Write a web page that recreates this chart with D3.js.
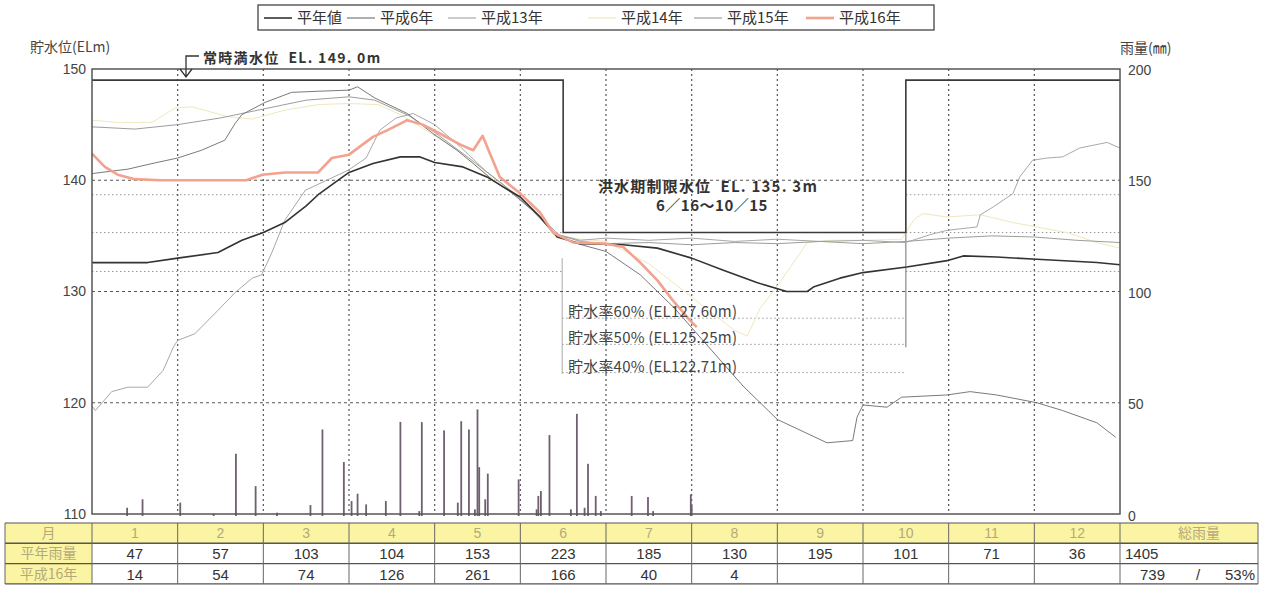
<!DOCTYPE html>
<html><head><meta charset="utf-8">
<script src="https://cdn.jsdelivr.net/npm/d3@7"></script>
<style>
body{margin:0;background:#fff;}
svg{display:block;font-family:"Noto Sans CJK JP","Liberation Sans",sans-serif;}
</style></head><body>
<svg id="chart" width="1261" height="608"></svg>
<script>
// month labels for the table
var monthLabels = ['1','2','3','4','5','6','7','8','9','10','11','12'];
// monthly rainfall (mm)
var normalRain = [47, 57, 103, 104, 153, 223, 185, 130, 195, 101, 71, 36];
var rain2004   = [14, 54, 74, 126, 261, 166, 40, 4];
var normalTotal = 1405, total2004 = 739, ratio2004 = '53%';

// water level series: [month position (0-12), EL m]
var avgLevel = [[0,132.6],[0.65,132.6],[1,133.0],[1.47,133.5],[1.75,134.6],[2,135.3],[2.25,136.2],[2.5,137.7],[2.64,138.7],[3,140.7],[3.28,141.5],[3.6,142.1],[3.83,142.1],[4,141.6],[4.33,141.2],[4.61,140.3],[4.8,139.4],[5,138.5],[5.23,136.7],[5.43,134.9],[5.7,134.3],[6.2,134.2],[6.6,133.9],[7,133.0],[7.37,131.9],[7.76,130.8],[8.11,130.0],[8.35,130.0],[8.42,130.4],[8.73,131.2],[9,131.7],[9.51,132.2],[10,132.8],[10.17,133.2],[10.56,133.1],[11.03,132.9],[11.73,132.6],[12,132.4]];
var level06 = [[0,140.6],[0.42,141.0],[0.7,141.5],[1,142.0],[1.28,142.7],[1.55,143.6],[1.67,145.1],[1.75,145.9],[2.02,147.0],[2.33,147.9],[2.64,148.0],[3,148.1],[3.1,148.4],[3.3,147.4],[3.68,146.0],[3.98,144.2],[4.26,142.7],[4.45,141.5],[4.68,140.0],[4.91,138.8],[5.23,136.7],[5.38,135.3],[5.62,134.4],[6,133.6],[6.4,131.5],[6.8,128.5],[7.2,125.0],[7.6,121.5],[8,118.5],[8.58,116.4],[8.88,116.6],[8.93,118.7],[9,119.8],[9.28,119.6],[9.45,120.5],[9.98,120.7],[10.25,121.0],[10.56,120.7],[11.03,120.0],[11.33,119.3],[11.73,118.2],[11.95,116.9]];
var level13 = [[0,119.7],[0.04,119.3],[0.23,121.0],[0.42,121.4],[0.65,121.4],[0.83,122.9],[0.95,125.0],[1,125.6],[1.2,126.2],[1.47,128.3],[1.67,129.9],[1.87,131.2],[1.98,131.5],[2.1,133.5],[2.25,136.4],[2.49,139.1],[2.99,140.9],[3.2,142.0],[3.36,144.5],[3.55,145.6],[3.75,146.0],[4,145.0],[4.3,143.0],[4.6,140.8],[4.9,139.0],[5.2,137.0],[5.45,135.1],[5.7,134.6],[6,134.8],[6.5,134.6],[7,134.8],[7.5,134.5],[8,134.7],[8.5,134.5],[9,134.6],[9.49,134.4],[9.58,134.6],[9.78,135.1],[9.98,135.5],[10.33,135.8],[10.37,136.9],[10.52,137.6],[10.75,138.8],[10.83,140.3],[10.98,141.8],[11.15,142.0],[11.33,142.1],[11.53,142.9],[11.85,143.4],[12,142.9]];
var level14 = [[0,145.4],[0.3,145.2],[0.7,145.2],[0.97,146.5],[1.17,146.6],[1.59,145.7],[1.87,145.5],[2.25,146.3],[2.64,146.8],[2.99,146.9],[3.34,146.8],[3.6,145.9],[4,144.0],[4.3,142.5],[4.6,140.6],[4.9,138.9],[5.2,136.9],[5.45,135.0],[5.7,134.7],[6,134.5],[6.5,132.5],[7,129.5],[7.5,126.5],[7.65,126.0],[7.8,128.5],[8,130.5],[8.35,134.4],[8.6,134.6],[9,134.6],[9.45,134.7],[9.6,136.5],[9.7,137.0],[9.98,136.7],[10.37,136.9],[10.75,136.2],[11.03,135.8],[11.38,135.3],[11.73,134.4],[12,133.9]];
var level15 = [[0,144.8],[0.5,144.6],[1,145.0],[1.5,145.6],[2,146.4],[2.5,147.2],[3,147.5],[3.3,147.2],[3.7,145.8],[4,144.3],[4.4,142.0],[4.8,139.6],[5.1,137.6],[5.4,135.2],[5.7,134.5],[6,134.3],[6.5,134.4],[7,134.2],[7.5,134.4],[8,134.3],[8.5,134.5],[9,134.3],[9.5,134.5],[10,134.8],[10.5,135.0],[11,134.9],[11.5,134.6],[12,134.4]];
var level16 = [[0,142.4],[0.15,141.2],[0.3,140.5],[0.5,140.1],[0.8,140.0],[1,140.0],[1.5,140.0],[1.8,140.0],[1.99,140.5],[2.25,140.7],[2.64,140.7],[2.8,142.0],[3,142.3],[3.28,143.9],[3.45,144.5],[3.68,145.4],[3.86,145.0],[4.06,144.2],[4.3,143.2],[4.45,142.7],[4.56,144.0],[4.64,142.5],[4.76,140.3],[5,138.8],[5.23,137.1],[5.38,135.3],[5.62,134.4],[6,134.3],[6.2,134.0],[6.4,132.6],[6.6,131.0],[6.78,129.2],[6.98,127.4],[7.06,126.8]];

// daily rainfall 2004: month position and mm
var rainDay = [0.41,0.59,1.03,1.42,1.68,1.91,2.16,2.55,2.69,2.94,3.03,3.1,3.2,3.43,3.6,3.82,3.85,4.11,4.27,4.31,4.4,4.47,4.5,4.52,4.59,4.62,4.98,5.19,5.21,5.24,5.34,5.59,5.66,5.75,5.79,5.88,5.94,6.3,6.49,6.55,6.99,7.0];
var rainMm  = [3.7,7.5,6.0,1.0,27.9,13.4,1.5,4.9,38.8,24.2,6.7,10,5.2,6.7,42.2,2.2,42.1,38.4,6.0,42.5,38.8,3.0,47.8,21.9,7.5,19,16.4,3.0,9.0,11.2,36.3,3.0,45.8,3.7,23.4,9.0,2.2,9.0,8.5,2.2,9.7,5.0];

var levelTicks = [150, 140, 130, 120, 110];
var rainTicks = [200, 150, 100, 50, 0];
var fullLevel = 149.0, floodLevel = 135.3;
var floodStart = 5.5, floodEnd = 9.5;
var minorLevels = [138.7, 131.8];
var rateLevels = [127.60, 125.25, 122.71];
var rateLabels = ['貯水率60% (EL127.60m)', '貯水率50% (EL125.25m)', '貯水率40% (EL122.71m)'];

var legendItems = [
  {name: '平年値',  color: '#333333', w: 1.6},
  {name: '平成6年', color: '#7a7a7a', w: 1},
  {name: '平成13年', color: '#a8a8a8', w: 1},
  {name: '平成14年', color: '#efe8bf', w: 1},
  {name: '平成15年', color: '#9a9e98', w: 1},
  {name: '平成16年', color: '#f2a28e', w: 2.6}
];
var seriesData = [avgLevel, level06, level13, level14, level15, level16];

var svg = d3.select('#chart');
var x = d3.scaleLinear().domain([0, 12]).range([92, 1120]);
var y = d3.scaleLinear().domain([110, 150]).range([514, 69]);
var yr = d3.scaleLinear().domain([0, 200]).range([516, 70]);

var ink = '#444';

// minor dotted levels (outside flood period), plus flood level dotted
[[0, floodStart], [floodEnd, 12]].forEach(function (seg) {
  minorLevels.concat([floodLevel]).forEach(function (v) {
    svg.append('line')
      .attr('x1', x(seg[0])).attr('x2', x(seg[1]))
      .attr('y1', y(v)).attr('y2', y(v))
      .attr('stroke', '#999').attr('stroke-width', 1).attr('stroke-dasharray', '1.5,2.5');
  });
});
// storage rate lines in flood period
rateLevels.forEach(function (v) {
  svg.append('line')
    .attr('x1', x(floodStart) - 1).attr('x2', x(floodEnd))
    .attr('y1', y(v)).attr('y2', y(v))
    .attr('stroke', '#999').attr('stroke-width', 1).attr('stroke-dasharray', '1.5,2.5');
});
svg.append('line').attr('x1', x(floodStart) - 1).attr('x2', x(floodStart) - 1)
  .attr('y1', y(133.0)).attr('y2', y(122.6)).attr('stroke', '#aaa').attr('stroke-width', 1);
svg.append('line').attr('x1', x(floodEnd)).attr('x2', x(floodEnd))
  .attr('y1', y(floodLevel)).attr('y2', y(125.0)).attr('stroke', '#888').attr('stroke-width', 1.2);

// major grid
levelTicks.slice(1, 4).forEach(function (v) {
  svg.append('line').attr('x1', x(0)).attr('x2', x(12)).attr('y1', y(v)).attr('y2', y(v))
    .attr('stroke', '#555').attr('stroke-width', 1.2).attr('stroke-dasharray', '3,3');
});
d3.range(1, 12).forEach(function (m) {
  svg.append('line').attr('x1', x(m)).attr('x2', x(m)).attr('y1', y(150)).attr('y2', y(110))
    .attr('stroke', '#555').attr('stroke-width', 1.2).attr('stroke-dasharray', '2,3');
});

// rainfall bars
svg.append('g').selectAll('rect').data(rainDay).enter().append('rect')
  .attr('x', function (d) { return x(d) - 0.9; })
  .attr('width', 1.8)
  .attr('y', function (d, i) { return yr(rainMm[i]); })
  .attr('height', function (d, i) { return yr(0) - yr(rainMm[i]); })
  .attr('fill', '#6f6070');

// water level lines
var line = d3.line().x(function (d) { return x(d[0]); }).y(function (d) { return y(d[1]); });
[3, 2, 4, 1, 0, 5].forEach(function (i) {
  svg.append('path').datum(seriesData[i]).attr('d', line)
    .attr('fill', 'none').attr('stroke', legendItems[i].color)
    .attr('stroke-width', legendItems[i].w).attr('stroke-linejoin', 'round');
});

// full water level / flood control level outline
svg.append('path')
  .attr('d', 'M' + x(0) + ',' + y(fullLevel) + 'H' + x(floodStart) + 'V' + y(floodLevel) +
             'H' + x(floodEnd) + 'V' + y(fullLevel) + 'H' + x(12))
  .attr('fill', 'none').attr('stroke', '#3a3a3a').attr('stroke-width', 1.6);

// frame
svg.append('rect').attr('x', x(0)).attr('y', y(150)).attr('width', x(12) - x(0)).attr('height', y(110) - y(150))
  .attr('fill', 'none').attr('stroke', '#555').attr('stroke-width', 1.5);

// axes labels
var yAxisL = d3.axisLeft(y).tickValues(levelTicks).tickSize(0).tickPadding(6);
svg.append('g').attr('transform', 'translate(' + x(0) + ',0)').call(yAxisL)
  .call(function (g) { g.select('.domain').remove(); })
  .selectAll('text').attr('font-size', 14).attr('fill', ink).attr('font-family', 'Liberation Sans, sans-serif');
var yAxisR = d3.axisRight(yr).tickValues(rainTicks).tickSize(0).tickPadding(8);
svg.append('g').attr('transform', 'translate(' + x(12) + ',0)').call(yAxisR)
  .call(function (g) { g.select('.domain').remove(); })
  .selectAll('text').attr('font-size', 14).attr('fill', ink).attr('font-family', 'Liberation Sans, sans-serif');

svg.append('text').attr('x', 30).attr('y', 52).attr('font-size', 14).attr('fill', ink).text('貯水位(ELm)');
svg.append('text').attr('x', 1120).attr('y', 53).attr('font-size', 14).attr('fill', ink).text('雨量(㎜)');

// annotations
svg.append('text').attr('x', 203).attr('y', 63).attr('font-size', 14).attr('font-weight', 'bold')
  .attr('letter-spacing', 1.3).attr('fill', '#333').attr('xml:space', 'preserve').text('常時満水位  EL. 149. 0m');
svg.append('path').attr('d', 'M199,56H186V77M180,69L186,77L192,69')
  .attr('fill', 'none').attr('stroke', '#333').attr('stroke-width', 1.3);
svg.append('text').attr('x', 708).attr('y', 192).attr('text-anchor', 'middle').attr('font-size', 15)
  .attr('font-weight', 'bold').attr('letter-spacing', 1.2).attr('fill', '#333').attr('xml:space', 'preserve')
  .text('洪水期制限水位  EL. 135. 3m');
svg.append('text').attr('x', 712).attr('y', 211).attr('text-anchor', 'middle').attr('font-size', 15)
  .attr('font-weight', 'bold').attr('letter-spacing', 0.5).attr('fill', '#333').text('6／16～10／15');
rateLabels.forEach(function (t, i) {
  svg.append('text').attr('x', 568).attr('y', y(rateLevels[i]) - 1).attr('font-size', 15)
    .attr('letter-spacing', 0.2).attr('fill', '#444').text(t);
});

// legend
var lg = svg.append('g');
lg.append('rect').attr('x', 258).attr('y', 5).attr('width', 676).attr('height', 25)
  .attr('fill', '#fff').attr('stroke', '#444').attr('stroke-width', 1.3);
var legX = [264, 347, 448, 588, 694, 806];
legendItems.forEach(function (d, i) {
  lg.append('line').attr('x1', legX[i]).attr('x2', legX[i] + 28).attr('y1', 18).attr('y2', 18)
    .attr('stroke', d.color).attr('stroke-width', Math.max(d.w, 1.2));
  lg.append('text').attr('x', legX[i] + 33).attr('y', 23).attr('font-size', 15).attr('fill', '#333').text(d.name);
});

// table
var tTop = 523, rowH = 20.3, labelL = 5, totalR = 1258;
var colEdges = [labelL].concat(d3.range(0, 13).map(function (m) { return x(m); })).concat([totalR]);
var tbl = svg.append('g');
tbl.append('rect').attr('x', labelL).attr('y', tTop).attr('width', totalR - labelL).attr('height', rowH)
  .attr('fill', '#fbf4a2');
tbl.append('rect').attr('x', labelL).attr('y', tTop + rowH).attr('width', x(0) - labelL).attr('height', rowH * 2)
  .attr('fill', '#fbf4a2');
d3.range(0, 4).forEach(function (r) {
  tbl.append('line').attr('x1', labelL).attr('x2', totalR).attr('y1', tTop + r * rowH).attr('y2', tTop + r * rowH)
    .attr('stroke', '#555').attr('stroke-width', r === 0 ? 1 : 1.4);
});
colEdges.forEach(function (cx) {
  tbl.append('line').attr('x1', cx).attr('x2', cx).attr('y1', tTop).attr('y2', tTop + rowH * 3)
    .attr('stroke', '#666').attr('stroke-width', 1);
});
var pale = '#b3aa7c';
tbl.append('text').attr('x', (labelL + x(0)) / 2).attr('y', tTop + 15).attr('text-anchor', 'middle')
  .attr('font-size', 14).attr('fill', pale).text('月');
tbl.append('text').attr('x', (labelL + x(0)) / 2).attr('y', tTop + rowH + 15).attr('text-anchor', 'middle')
  .attr('font-size', 14).attr('fill', pale).text('平年雨量');
tbl.append('text').attr('x', (labelL + x(0)) / 2).attr('y', tTop + rowH * 2 + 15).attr('text-anchor', 'middle')
  .attr('font-size', 14).attr('fill', pale).text('平成16年');
tbl.append('text').attr('x', (x(12) + totalR) / 2 + 10).attr('y', tTop + 15).attr('text-anchor', 'middle')
  .attr('font-size', 14).attr('fill', pale).text('総雨量');
monthLabels.forEach(function (t, i) {
  var cx = (x(i) + x(i + 1)) / 2;
  tbl.append('text').attr('x', cx).attr('y', tTop + 15).attr('text-anchor', 'middle')
    .attr('font-size', 14).attr('fill', pale).attr('font-family', 'Liberation Sans, sans-serif').text(t);
  tbl.append('text').attr('x', cx).attr('y', tTop + rowH + 16).attr('text-anchor', 'middle')
    .attr('font-size', 15).attr('fill', '#333').attr('font-family', 'Liberation Sans, sans-serif').text(normalRain[i]);
  if (i < rain2004.length) {
    tbl.append('text').attr('x', cx).attr('y', tTop + rowH * 2 + 16).attr('text-anchor', 'middle')
      .attr('font-size', 15).attr('fill', '#333').attr('font-family', 'Liberation Sans, sans-serif').text(rain2004[i]);
  }
});
tbl.append('text').attr('x', x(12) + 5).attr('y', tTop + rowH + 16).attr('font-size', 15).attr('fill', '#333')
  .attr('font-family', 'Liberation Sans, sans-serif').text(normalTotal);
tbl.append('text').attr('x', x(12) + 20).attr('y', tTop + rowH * 2 + 16).attr('font-size', 15).attr('fill', '#333')
  .attr('font-family', 'Liberation Sans, sans-serif').text(total2004);
tbl.append('text').attr('x', x(12) + 76).attr('y', tTop + rowH * 2 + 16).attr('font-size', 15).attr('fill', '#333')
  .attr('font-family', 'Liberation Sans, sans-serif').text('/');
tbl.append('text').attr('x', totalR - 3).attr('y', tTop + rowH * 2 + 16).attr('text-anchor', 'end').attr('font-size', 15)
  .attr('fill', '#333').attr('font-family', 'Liberation Sans, sans-serif').text(ratio2004);
</script></body></html>
